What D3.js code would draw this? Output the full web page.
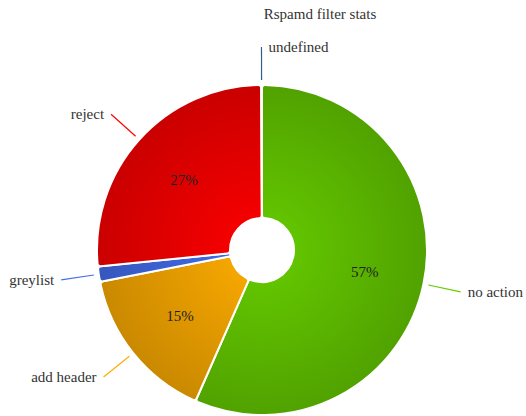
<!DOCTYPE html>
<html>
<head>
<meta charset="utf-8">
<script src="https://d3js.org/d3.v7.min.js"></script>
<style>
  html, body { margin: 0; padding: 0; background: #fff; }
  svg text { font-family: "Liberation Serif", "DejaVu Serif", serif; }
</style>
</head>
<body>
<div id="chart"></div>
<script>
// Rspamd filter stats - action counts
const actions = ['no action', 'add header', 'greylist', 'reject', 'undefined'];
const counts = [5660, 1530, 150, 2652, 8];
const actionColors = ['#66CC00', '#FFAD00', '#436EEE', '#FF0000', '#2E5E8C'];
const chartTitle = 'Rspamd filter stats';

(function() {
    const width = 526, height = 416;
    const cx = 262, cy = 250;
    const outerRadius = 165, innerRadius = 32;
    const hidePercentBelow = 3;

    const data = actions.map((name, i) => ({ name, value: counts[i], color: actionColors[i] }));
    const total = d3.sum(data, d => d.value);

    const svg = d3.select('#chart').append('svg')
        .attr('width', width)
        .attr('height', height)
        .attr('viewBox', `0 0 ${width} ${height}`);

    // title
    svg.append('text')
        .attr('x', 320)
        .attr('y', 19)
        .attr('text-anchor', 'middle')
        .style('font-size', '15px')
        .style('fill', '#333')
        .text(chartTitle);

    const defs = svg.append('defs');
    data.forEach((d, i) => {
        const grad = defs.append('radialGradient')
            .attr('id', 'grad' + i)
            .attr('gradientUnits', 'userSpaceOnUse')
            .attr('cx', 0).attr('cy', 0).attr('r', outerRadius);
        grad.append('stop').attr('offset', '0%').attr('stop-color', d.color);
        grad.append('stop').attr('offset', '100%').attr('stop-color', d3.color(d.color).darker(0.65));
    });

    const g = svg.append('g').attr('transform', `translate(${cx}, ${cy})`);

    const pie = d3.pie().value(d => d.value).sort(null);
    const arcs = pie(data);

    const arc = d3.arc()
        .innerRadius(innerRadius)
        .outerRadius(outerRadius)
        .cornerRadius(3);

    g.selectAll('path.slice')
        .data(arcs)
        .enter().append('path')
        .attr('class', 'slice')
        .attr('d', arc)
        .attr('fill', (d, i) => `url(#grad${i})`)
        .attr('stroke', '#fff')
        .attr('stroke-width', 2);

    // inner percentage labels
    const labelArc = d3.arc().innerRadius(105).outerRadius(105);
    g.selectAll('text.pct')
        .data(arcs.filter(d => d.data.value / total * 100 >= hidePercentBelow))
        .enter().append('text')
        .attr('class', 'pct')
        .attr('transform', d => `translate(${labelArc.centroid(d)})`)
        .attr('text-anchor', 'middle')
        .attr('dy', '0.35em')
        .style('font-size', '15px')
        .style('fill', '#222')
        .text(d => Math.round(d.data.value / total * 100) + '%');

    // outer labels with leader lines
    const lineStart = d3.arc().innerRadius(170).outerRadius(170);
    const lineEnd = d3.arc().innerRadius(203).outerRadius(203);
    const isRight = d => Math.sin((d.startAngle + d.endAngle) / 2) > -0.05;

    const outer = g.selectAll('g.outer')
        .data(arcs)
        .enter().append('g')
        .attr('class', 'outer');

    outer.append('line')
        .attr('x1', d => lineStart.centroid(d)[0])
        .attr('y1', d => lineStart.centroid(d)[1])
        .attr('x2', d => lineEnd.centroid(d)[0])
        .attr('y2', d => lineEnd.centroid(d)[1])
        .attr('stroke', d => d.data.color)
        .attr('stroke-width', 1.2);

    outer.append('text')
        .attr('x', d => lineEnd.centroid(d)[0] + (isRight(d) ? 7 : -7))
        .attr('y', d => lineEnd.centroid(d)[1])
        .attr('dy', '0.35em')
        .attr('text-anchor', d => isRight(d) ? 'start' : 'end')
        .style('font-size', '15px')
        .style('fill', '#333')
        .text(d => d.data.name);
})();
</script>
</body>
</html>
